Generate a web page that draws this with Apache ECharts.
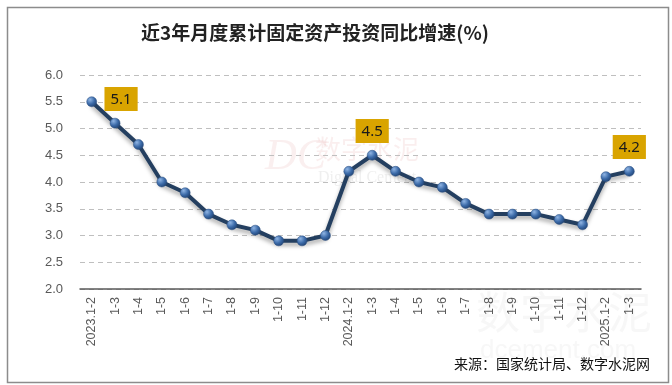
<!DOCTYPE html>
<html><head><meta charset="utf-8">
<script src="https://cdn.jsdelivr.net/npm/echarts@6/dist/echarts.min.js"></script>
<style>html,body{margin:0;padding:0;background:#fff}#c{width:672px;height:385px}</style>
</head><body><div id="c"></div>
<script>
const categories = ['2023.1-2','1-3','1-4','1-5','1-6','1-7','1-8','1-9','1-10','1-11','1-12',
  '2024.1-2','1-3','1-4','1-5','1-6','1-7','1-8','1-9','1-10','1-11','1-12','2025.1-2','1-3'];
const growth = [5.5,5.1,4.7,4.0,3.8,3.4,3.2,3.1,2.9,2.9,3.0,4.2,4.5,4.2,4.0,3.9,3.6,3.4,3.4,3.4,3.3,3.2,4.1,4.2];
const labelled = [1,12,23];
const titleText = '近3年月度累计固定资产投资同比增速(%)';
const sourceText = '来源：国家统计局、数字水泥网';

const chart = echarts.init(document.getElementById('c'), null, {renderer:'canvas'});
const data = growth.map((v,i)=>{
  const o = {value:v};
  if (labelled.includes(i)) {
    o.label = {show:true, position:'top', distance:7, offset: i===1?[6,0]:[0,0],
      formatter: p=>p.value.toFixed(1),
      backgroundColor:'#D9A400', color:'#1a1a1a', fontSize:15, fontFamily:'Noto Sans',
      padding:[5,6,4,6]};
  }
  return o;
});
chart.setOption({
  animation:false,
  title:{text:titleText, left:310, top:18, textAlign:'center',
    textStyle:{fontSize:19, fontWeight:'bold', color:'#222', fontFamily:'Noto Sans CJK SC'}},
  grid:{left:80, right:31, top:75, bottom:96},
  xAxis:{type:'category', data:categories, boundaryGap:true,
    axisLine:{lineStyle:{color:'#595959', width:1.5}}, axisTick:{show:false},
    axisLabel:{rotate:90, interval:0, color:'#595959', fontSize:12.5, fontFamily:'Liberation Sans', margin:8}},
  yAxis:{type:'value', min:2, max:6, interval:0.5,
    axisLine:{show:false}, axisTick:{show:false},
    splitLine:{lineStyle:{color:'#BFBFBF', type:[5,4], width:1}},
    axisLabel:{formatter:v=>v.toFixed(1), color:'#595959', fontSize:13, fontFamily:'Liberation Sans', margin:17}},
  series:[{type:'line', data:data, symbol:'circle', symbolSize:10,
    lineStyle:{color:'#243F60', width:4, shadowColor:'rgba(0,0,0,0.35)', shadowBlur:4, shadowOffsetY:3},
    itemStyle:{color:new echarts.graphic.RadialGradient(0.35,0.3,0.7,[{offset:0,color:'#8FB4E3'},{offset:0.6,color:'#3B6AA8'},{offset:1,color:'#24487A'}]),
      borderColor:'#2A4F80', borderWidth:0.5},
    label:{show:false}, z:5}],
  graphic:[
    {type:'rect', left:5, top:5, shape:{width:661, height:375}, style:{fill:'none', stroke:'#8C8C8C', lineWidth:1.5}, z:-1},
    {type:'text', left:265, top:135, style:{text:'DC', fill:'rgba(220,150,150,0.15)', font:'italic 44px "Liberation Serif"'}, z:-1},
    {type:'text', left:315, top:136, style:{text:'数字水泥', fill:'rgba(220,140,140,0.15)', font:'26px "Noto Sans CJK SC"'}, z:-1},
    {type:'text', left:318, top:170, style:{text:'Digital Cement', fill:'rgba(180,180,180,0.22)', font:'16px "Liberation Serif"'}, z:-1},
    {type:'text', left:476, top:290, style:{text:'数字水泥', fill:'rgba(200,200,200,0.15)', font:'44px "Noto Sans CJK SC"'}, z:-1},
    {type:'text', left:480, top:338, style:{text:'dcement.com', fill:'rgba(200,200,200,0.15)', font:'26px "Liberation Sans"'}, z:-1},
    {type:'text', right:22, top:357, style:{text:sourceText, fill:'#111', font:'14px "Noto Sans CJK SC"'}}
  ]
});
</script></body></html>
